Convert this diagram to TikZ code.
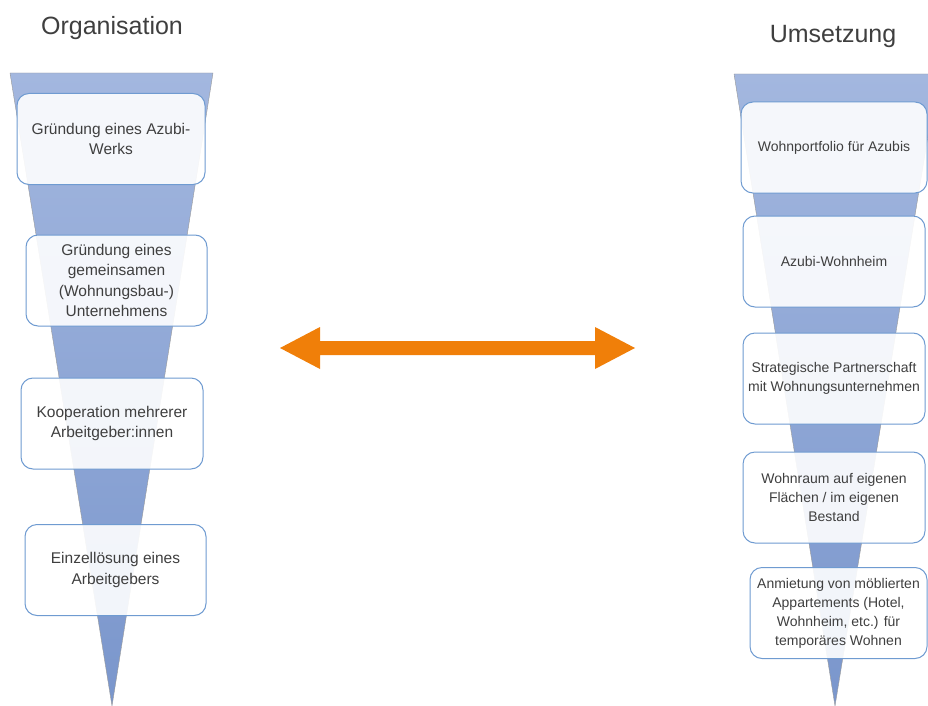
\documentclass[tikz,border=0pt]{standalone}
\usepackage{fontspec}
\setmainfont{Liberation Sans}
\usepackage{tikz}
\usetikzlibrary{calc}
\definecolor{funneltop}{HTML}{A3B7DF}
\definecolor{funnelbot}{HTML}{7A96CC}
\definecolor{boxline}{HTML}{6F9BD1}
\definecolor{txtgray}{HTML}{3F3F3F}
\definecolor{arroworange}{HTML}{F07F09}
\tikzset{
	stepbox/.style={draw=boxline, line width=1pt, rounded corners=12pt, fill=white, fill opacity=0.9, text opacity=1, text=txtgray, align=center, minimum height=91pt, inner sep=2pt},
	heading/.style={text=txtgray, font=\fontsize{25}{30}\selectfont}
}

\begin{document}
\begin{tikzpicture}[x=1pt, y=-1pt]
\useasboundingbox (0,0) rectangle (928,706);
\clip (0,0) rectangle (928,706);
% funnels
\shade[top color=funneltop, bottom color=funnelbot] (10,73) -- (213,73) -- (112,706) -- cycle;
\draw[gray!80, thin] (10,73) -- (213,73) (10,73) -- (112,706) -- (213,73);
\shade[top color=funneltop, bottom color=funnelbot] (734,74) -- (938,74) -- (835,706) -- cycle;
\draw[gray!80, thin] (734,74) -- (938,74) (734,74) -- (835,706) -- (938,74);
% headings
\node[heading] (orga) at (112,28) {Organisation};
\node[heading] (umse) at (833,36) {Umsetzung};
% left column
\foreach \name/\cx/\cy/\bw/\txt in {
	o1/111/139/188/{Gründung eines Azubi-\\Werks},
	o2/116.5/280.5/181/{Gründung eines\\gemeinsamen\\(Wohnungsbau-)\\Unternehmens},
	o3/112/423.5/182/{Kooperation mehrerer\\Arbeitgeber:innen},
	o4/115.5/570/181/{Einzellösung eines\\Arbeitgebers}} {
	\node[stepbox, minimum width=\bw pt, font=\fontsize{15.5}{20.5}\selectfont] (\name) at (\cx,\cy) {\txt};
	};
% right column
\foreach \name/\cx/\cy/\bw/\txt in {
	u1/834/147.5/186/{Wohnportfolio für Azubis},
	u2/834/261.5/182/{Azubi-Wohnheim},
	u3/834/378.5/182/{Strategische Partnerschaft\\mit Wohnungsunternehmen},
	u4/834/497.5/182/{Wohnraum auf eigenen\\Flächen / im eigenen\\Bestand},
	u5/838.5/613/177/{Anmietung von möblierten\\Appartements (Hotel,\\Wohnheim, etc.) für\\temporäres Wohnen}} {
	\node[stepbox, minimum width=\bw pt, font=\fontsize{14}{19}\selectfont] (\name) at (\cx,\cy) {\txt};
	};
% double arrow
\coordinate (al) at (280,348);
\coordinate (ar) at (635,348);
\fill[arroworange] (al) -- ++(40,-21) -- ++(0,14) -- ($(ar)+(-40,-7)$) -- ++(0,-14) -- (ar) -- ++(-40,21) -- ++(0,-14) -- ($(al)+(40,7)$) -- ++(0,14) -- cycle;
\end{tikzpicture}
\end{document}
